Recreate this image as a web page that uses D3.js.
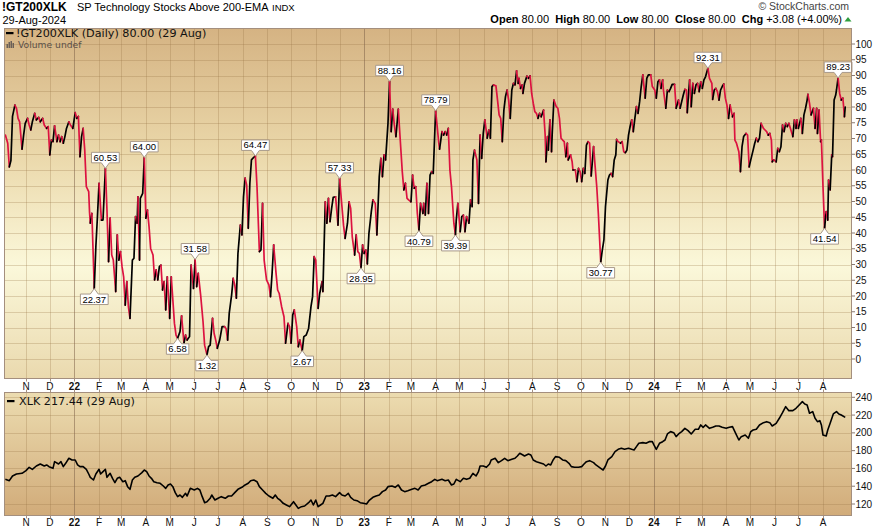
<!DOCTYPE html>
<html><head><meta charset="utf-8">
<script src="https://cdn.jsdelivr.net/npm/d3@7"></script>
<style>
html,body{margin:0;padding:0;background:#fff;}
svg{display:block;}
text{font-family:"Liberation Sans",Arial,sans-serif;}
.mono{font-family:"DejaVu Sans",Verdana,sans-serif;}
</style></head><body>
<svg id="c" width="883" height="529"></svg>
<script>
// ---------------- DATA ----------------
const gtDates = ["2021-10-06","2021-10-09","2021-10-11","2021-10-13","2021-10-15","2021-10-18","2021-10-20","2021-10-22","2021-10-24","2021-10-27","2021-10-29","2021-10-31",
"2021-11-03","2021-11-05","2021-11-07","2021-11-09","2021-11-12","2021-11-14","2021-11-17","2021-11-19","2021-11-22","2021-11-24","2021-11-27","2021-11-29",
"2021-12-01","2021-12-03","2021-12-05","2021-12-07","2021-12-10","2021-12-12","2021-12-14","2021-12-16","2021-12-18","2021-12-20","2021-12-22","2021-12-25","2021-12-27","2021-12-30",
"2022-01-02","2022-01-04","2022-01-06","2022-01-08","2022-01-10","2022-01-12","2022-01-14","2022-01-16","2022-01-19","2022-01-20","2022-01-21","2022-01-23","2022-01-26","2022-01-28","2022-01-30",
"2022-02-01","2022-02-04","2022-02-06","2022-02-09","2022-02-11","2022-02-13","2022-02-15","2022-02-17","2022-02-19","2022-02-22","2022-02-24","2022-02-26","2022-02-28",
"2022-03-02","2022-03-04","2022-03-06","2022-03-08","2022-03-10","2022-03-12","2022-03-15","2022-03-17","2022-03-19","2022-03-21","2022-03-22","2022-03-24","2022-03-25","2022-03-28","2022-03-30",
"2022-04-01","2022-04-03","2022-04-05","2022-04-07","2022-04-10","2022-04-12","2022-04-14","2022-04-16","2022-04-18","2022-04-20","2022-04-22","2022-04-24","2022-04-26","2022-04-28",
"2022-05-01","2022-05-03","2022-05-05","2022-05-07","2022-05-09","2022-05-11","2022-05-14","2022-05-16","2022-05-19","2022-05-21","2022-05-23","2022-05-26","2022-05-28","2022-05-31",
"2022-06-02","2022-06-04","2022-06-06","2022-06-09","2022-06-12","2022-06-14","2022-06-17","2022-06-19","2022-06-21","2022-06-24","2022-06-26","2022-06-28","2022-06-30",
"2022-07-03","2022-07-06","2022-07-09","2022-07-11","2022-07-13","2022-07-15","2022-07-18","2022-07-20","2022-07-22","2022-07-24","2022-07-26","2022-07-29","2022-07-31",
"2022-08-02","2022-08-04","2022-08-06","2022-08-08","2022-08-10","2022-08-12","2022-08-14","2022-08-17","2022-08-19","2022-08-22","2022-08-24","2022-08-26","2022-08-28","2022-08-31",
"2022-09-03","2022-09-05","2022-09-07","2022-09-09","2022-09-12","2022-09-14","2022-09-16","2022-09-19","2022-09-22","2022-09-24","2022-09-27","2022-09-29",
"2022-10-01","2022-10-03","2022-10-05","2022-10-08","2022-10-10","2022-10-12","2022-10-15","2022-10-17","2022-10-20","2022-10-23","2022-10-26","2022-10-28","2022-10-30",
"2022-11-01","2022-11-04","2022-11-06","2022-11-09","2022-11-10","2022-11-13","2022-11-15","2022-11-17","2022-11-19","2022-11-21","2022-11-23","2022-11-26","2022-11-29",
"2022-12-01","2022-12-04","2022-12-06","2022-12-08","2022-12-11","2022-12-13","2022-12-15","2022-12-17","2022-12-20","2022-12-22","2022-12-24","2022-12-26","2022-12-28","2022-12-30",
"2023-01-01","2023-01-03","2023-01-05","2023-01-07","2023-01-10","2023-01-12","2023-01-15","2023-01-17","2023-01-20","2023-01-22","2023-01-24","2023-01-26","2023-01-28","2023-01-31",
"2023-02-02","2023-02-04","2023-02-06","2023-02-08","2023-02-10","2023-02-13","2023-02-16","2023-02-18","2023-02-20","2023-02-22","2023-02-24","2023-02-26",
"2023-03-01","2023-03-03","2023-03-05","2023-03-07","2023-03-09","2023-03-11","2023-03-13","2023-03-16","2023-03-17","2023-03-19","2023-03-21","2023-03-23","2023-03-25","2023-03-27","2023-03-29",
"2023-04-01","2023-04-03","2023-04-05","2023-04-06","2023-04-09","2023-04-11","2023-04-13","2023-04-15","2023-04-17","2023-04-19","2023-04-21","2023-04-24","2023-04-26","2023-04-27","2023-04-29",
"2023-05-02","2023-05-04","2023-05-06","2023-05-08","2023-05-10","2023-05-13","2023-05-15","2023-05-17","2023-05-18","2023-05-20","2023-05-23","2023-05-25","2023-05-27","2023-05-29","2023-05-31",
"2023-06-02","2023-06-05","2023-06-07","2023-06-09","2023-06-11","2023-06-13","2023-06-16","2023-06-18","2023-06-20","2023-06-22","2023-06-24","2023-06-26","2023-06-28","2023-06-30",
"2023-07-02","2023-07-04","2023-07-06","2023-07-08","2023-07-10","2023-07-12","2023-07-14","2023-07-15","2023-07-17","2023-07-19","2023-07-20","2023-07-22","2023-07-25","2023-07-27","2023-07-29","2023-07-31",
"2023-08-02","2023-08-04","2023-08-06","2023-08-08","2023-08-10","2023-08-12","2023-08-15","2023-08-17","2023-08-18","2023-08-20","2023-08-21","2023-08-23","2023-08-25","2023-08-26","2023-08-28","2023-08-31",
"2023-09-02","2023-09-04","2023-09-06","2023-09-08","2023-09-10","2023-09-12","2023-09-14","2023-09-15","2023-09-18","2023-09-20","2023-09-21","2023-09-24","2023-09-26","2023-09-28","2023-09-30",
"2023-10-02","2023-10-04","2023-10-06","2023-10-08","2023-10-10","2023-10-12","2023-10-14","2023-10-17","2023-10-19","2023-10-21","2023-10-23","2023-10-26","2023-10-28","2023-10-30",
"2023-11-01","2023-11-04","2023-11-06","2023-11-08","2023-11-10","2023-11-12","2023-11-14","2023-11-15","2023-11-17","2023-11-20","2023-11-22","2023-11-24","2023-11-26","2023-11-28","2023-11-30",
"2023-12-02","2023-12-04","2023-12-06","2023-12-08","2023-12-10","2023-12-12","2023-12-14","2023-12-16","2023-12-18","2023-12-21","2023-12-23","2023-12-25","2023-12-28","2023-12-30",
"2024-01-02","2024-01-04","2024-01-06","2024-01-08","2024-01-10","2024-01-12","2024-01-13","2024-01-16","2024-01-18","2024-01-20","2024-01-22","2024-01-24","2024-01-27","2024-01-29",
"2024-02-01","2024-02-03","2024-02-05","2024-02-07","2024-02-09","2024-02-11","2024-02-12","2024-02-14","2024-02-15","2024-02-17","2024-02-19","2024-02-21","2024-02-23","2024-02-25","2024-02-27","2024-02-29",
"2024-03-02","2024-03-04","2024-03-06","2024-03-09","2024-03-11","2024-03-14","2024-03-15","2024-03-17","2024-03-19","2024-03-21","2024-03-23","2024-03-25","2024-03-27","2024-03-29","2024-03-31",
"2024-04-02","2024-04-04","2024-04-06","2024-04-09","2024-04-11","2024-04-12","2024-04-14","2024-04-17","2024-04-19","2024-04-21","2024-04-23","2024-04-26","2024-04-28","2024-04-30",
"2024-05-02","2024-05-05","2024-05-07","2024-05-09","2024-05-11","2024-05-13","2024-05-15","2024-05-18","2024-05-20","2024-05-22","2024-05-24","2024-05-26","2024-05-28","2024-05-29","2024-05-31",
"2024-06-03","2024-06-05","2024-06-07","2024-06-09","2024-06-11","2024-06-13","2024-06-15","2024-06-17","2024-06-19","2024-06-21","2024-06-24","2024-06-26","2024-06-28","2024-06-29",
"2024-07-01","2024-07-04","2024-07-06","2024-07-08","2024-07-10","2024-07-12","2024-07-13","2024-07-15","2024-07-17","2024-07-20","2024-07-22","2024-07-24","2024-07-25","2024-07-27","2024-07-29","2024-07-30",
"2024-08-01","2024-08-03","2024-08-05","2024-08-07","2024-08-08","2024-08-10","2024-08-12","2024-08-13","2024-08-15","2024-08-17","2024-08-18","2024-08-20","2024-08-22","2024-08-24","2024-08-26","2024-08-27","2024-08-28","2024-08-29"];
const gtValues = [71.1,68.5,61,63,77,80.6,79.6,76.4,75.3,66.6,71.1,74.8,
76.4,74.3,72.7,75.3,78,75.9,76.7,75.3,76.4,74.3,73.2,73.8,
64.8,69.5,69,74,69,71.1,69,70.6,68.5,70.6,73.2,75.3,74.3,73.2,
78.2,76.4,77,64.2,70.6,73.2,66.3,54.7,53.1,46.8,43.1,46.2,22.37,35.7,45.2,
55.8,44.1,44.1,60.53,47.3,30.9,44.7,33,31.4,21.4,39.4,31.4,34.1,
29.3,26.1,17.1,24.6,16.6,12.9,31.4,32,45.2,43.1,51.5,31.4,51,52.6,64.00,
44.7,47.3,42,35.1,33,25.1,28.3,25.1,29.3,29.8,21.9,24.6,15.6,26.1,
12.9,26.1,18.7,11.3,7.6,6.58,8.7,13.7,5,7.6,6,7.1,29.8,22.4,
31.58,23,27.2,20.3,11.9,4.4,1.32,3.9,4.4,12.9,8.1,6,3.4,
6,10.3,10.3,9.7,6,14.5,20.3,25.6,23.5,19.3,33.5,42.5,39.4,
51.5,57.4,55.2,41.5,55.8,63.2,63.8,64.47,54.7,34.1,34.6,49.4,31.4,25.1,
23.5,19.8,27.2,36.2,27.2,21.9,20.8,16.6,13.4,5,11.3,10.3,
5,14,15.6,10.3,3.9,6,2.67,7.1,7.6,9.7,16.6,19.8,32.5,
31.4,16.1,20.8,24.6,21.4,49.9,43.1,51,43.6,47.8,51.3,51.5,42.5,
57.33,48.4,42.5,38.3,43.1,49.9,47.8,38.8,33,39.4,34.1,33.5,28.95,36.2,
33.5,34.6,30.2,39.9,46.8,50.5,49.4,39.4,57.9,63.7,57.9,64.8,63.2,74.8,
88.16,72.2,79.3,74.3,70.6,79.3,67.4,59.5,53.7,55.8,51,50.5,
49.9,58.4,54.2,54.7,46.2,40.79,49.4,46.2,49.4,45.7,55.8,46.2,58.4,59.5,58.9,
78.79,73.8,68.5,66.6,72.2,71.1,72.2,71.1,73.2,60,54.7,43.1,39.39,44.1,49.4,
40.4,45.2,45.7,40.4,45.2,43.1,50.5,48.4,63.2,66.3,63.2,49.4,71.1,63.7,71.6,
75.9,70.1,72.7,70.1,86.5,87,86.7,82.2,77.5,76.4,69,79,83.3,85.4,
82.2,76.4,85.4,87.5,87,91.5,87.5,89.1,85.9,87,84.3,87.5,89.8,89.1,89.9,84.3,
81.2,78.5,78,76.4,78,76.9,79,71.1,62.6,70.6,66.3,75.9,65.8,72.2,82.2,80.1,
79.6,76.4,70.1,69.5,69,64.2,68.5,63.2,64.8,62.6,60,60,56.3,60.5,59.5,
56.3,60.5,58.9,67.9,69,68.5,58.1,67.4,61,54.7,46.2,30.77,34.6,37.8,
48.4,56.8,58.4,58.9,57.9,63.2,64.8,69.7,69,68.5,69,65.8,65.5,66.3,71.1,
73.8,75.9,72.2,76.4,80.1,78,81.7,86.5,90.2,82.8,89.1,90.2,90.2,86.5,
85.4,82.8,88,88.6,85.9,88.6,85.4,79.6,85.4,84.9,85.9,87.2,87.2,79.6,
82.2,79.6,81.7,83.8,85.6,85.4,78.2,85.4,88.6,80.1,87.5,84.3,87,87.5,84.9,88,
85.9,88.6,89.6,92.31,89.1,87.5,82.4,85.4,85.9,84.9,82.2,85.4,86.5,87.3,82.8,
80.6,76.4,80.6,76.9,78,69.5,68.5,65.8,59.5,67.4,70.6,71.6,71.1,61,
63.2,66.3,68.5,70.1,69,70.1,74.8,73.2,72.7,72.2,71.1,71.6,69.5,62.6,63.2,
62.6,66.9,65.8,67.4,74.3,72.2,74.8,73.8,74.8,73.2,70.6,75.9,73.2,75.9,
73.2,76.4,71.6,77.5,79.6,82.2,84,81.2,77.5,79.6,73.2,79.6,71.6,79,69,69.5,
54.7,41.54,46.8,44.1,56.8,53.7,64.8,64.2,82.2,83.8,85.4,89.23,84.3,82.2,82.8,80.1,76.92,80.00];

const xlkDates = ["2021-10-06","2021-10-11","2021-10-15","2021-10-20","2021-10-27","2021-11-01","2021-11-05","2021-11-09","2021-11-14","2021-11-19","2021-11-24","2021-11-27","2021-11-30",
"2021-12-05","2021-12-07","2021-12-12","2021-12-15","2021-12-18","2021-12-21","2021-12-25","2021-12-29",
"2022-01-02","2022-01-05","2022-01-08","2022-01-12","2022-01-16","2022-01-19","2022-01-21","2022-01-25","2022-01-28",
"2022-02-01","2022-02-03","2022-02-06","2022-02-09","2022-02-11","2022-02-15","2022-02-18","2022-02-21","2022-02-24","2022-02-27",
"2022-03-03","2022-03-06","2022-03-09","2022-03-12","2022-03-15","2022-03-18","2022-03-22","2022-03-27","2022-03-30",
"2022-04-02","2022-04-05","2022-04-08","2022-04-11","2022-04-15","2022-04-19","2022-04-23","2022-04-26","2022-04-29",
"2022-05-02","2022-05-05","2022-05-08","2022-05-11","2022-05-14","2022-05-17","2022-05-21","2022-05-23","2022-05-27",
"2022-06-01","2022-06-05","2022-06-08","2022-06-11","2022-06-14","2022-06-17","2022-06-21","2022-06-23","2022-06-27",
"2022-07-01","2022-07-05","2022-07-10","2022-07-14","2022-07-18","2022-07-22","2022-07-26","2022-07-31",
"2022-08-04","2022-08-08","2022-08-11","2022-08-15","2022-08-19","2022-08-22","2022-08-26","2022-08-30",
"2022-09-03","2022-09-08","2022-09-11","2022-09-14","2022-09-17","2022-09-21","2022-09-25","2022-09-29",
"2022-10-04","2022-10-07","2022-10-10","2022-10-14","2022-10-18","2022-10-23","2022-10-26","2022-10-29",
"2022-11-01","2022-11-04","2022-11-07","2022-11-10","2022-11-14","2022-11-18","2022-11-22","2022-11-26",
"2022-12-01","2022-12-04","2022-12-08","2022-12-12","2022-12-15","2022-12-19","2022-12-23","2022-12-27","2022-12-31",
"2023-01-04","2023-01-07","2023-01-12","2023-01-16","2023-01-20","2023-01-24","2023-01-28","2023-01-31",
"2023-02-05","2023-02-09","2023-02-13","2023-02-17","2023-02-21","2023-02-25",
"2023-03-02","2023-03-06","2023-03-10","2023-03-14","2023-03-19","2023-03-23","2023-03-27","2023-03-31",
"2023-04-03","2023-04-09","2023-04-13","2023-04-17","2023-04-21","2023-04-24","2023-04-27",
"2023-05-02","2023-05-06","2023-05-10","2023-05-14","2023-05-18","2023-05-22","2023-05-25","2023-05-27","2023-05-31",
"2023-06-04","2023-06-08","2023-06-10","2023-06-15","2023-06-19","2023-06-23","2023-06-27",
"2023-07-01","2023-07-06","2023-07-10","2023-07-13","2023-07-16","2023-07-20","2023-07-22","2023-07-27","2023-07-30",
"2023-08-02","2023-08-06","2023-08-10","2023-08-15","2023-08-18","2023-08-21","2023-08-24","2023-08-27","2023-08-30",
"2023-09-04","2023-09-08","2023-09-12","2023-09-16","2023-09-19","2023-09-23","2023-09-28",
"2023-10-02","2023-10-05","2023-10-08","2023-10-12","2023-10-17","2023-10-20","2023-10-23","2023-10-26","2023-10-29",
"2023-11-01","2023-11-04","2023-11-09","2023-11-13","2023-11-17","2023-11-21","2023-11-25","2023-11-30",
"2023-12-04","2023-12-07","2023-12-10","2023-12-13","2023-12-18","2023-12-22","2023-12-26","2023-12-30",
"2024-01-01","2024-01-04","2024-01-08","2024-01-12","2024-01-15","2024-01-18","2024-01-22","2024-01-26","2024-01-29",
"2024-02-02","2024-02-05","2024-02-09","2024-02-13","2024-02-17","2024-02-22","2024-02-26","2024-02-29",
"2024-03-03","2024-03-06","2024-03-11","2024-03-15","2024-03-19","2024-03-23","2024-03-27",
"2024-04-01","2024-04-05","2024-04-09","2024-04-13","2024-04-17","2024-04-20","2024-04-25","2024-04-29",
"2024-05-02","2024-05-05","2024-05-09","2024-05-13","2024-05-18","2024-05-22","2024-05-26","2024-05-29",
"2024-06-03","2024-06-07","2024-06-11","2024-06-15","2024-06-19","2024-06-24","2024-06-28",
"2024-07-02","2024-07-06","2024-07-09","2024-07-12","2024-07-15","2024-07-19","2024-07-22","2024-07-25","2024-07-28","2024-07-30",
"2024-08-01","2024-08-05","2024-08-07","2024-08-10","2024-08-14","2024-08-18","2024-08-21","2024-08-24","2024-08-29"];
const xlkValues = [147.75,146.25,151.5,153.75,154.5,157.5,161.25,159,162.75,165,162.75,163.9,162,
160.1,167.6,165,167.6,162,165.75,171.4,169.5,
169.5,163.9,162,162,159,153.75,150,147,153.75,
159,153.75,156.4,159,150,154.5,148.9,144,148.9,150,
145.1,146.25,139.5,136.5,147,150,151.5,155.25,158.25,
156.4,151.5,148.9,145.1,144,143.25,140.25,137.6,141.4,
142.5,139.5,132.75,128.25,130.1,127.5,132,129,137.6,
135.75,137.6,135.75,128.25,121.5,122.6,126.4,130.1,124.5,
126.4,128.25,126.4,129,129,132.75,136.5,138.75,
141.4,143.25,146.25,147,145.1,139.5,135.75,132,
129,126.4,130.1,126.4,124.5,120.75,118.9,117,
122.6,118.9,115.1,117,117.75,121.5,124.5,118.9,
124.5,117,118.9,120.75,129,129,130.1,128.25,
132.75,130.1,129,132,127.5,124.5,123.75,121.5,120.75,
120,123.75,127.5,129,130.1,133.9,135.75,139.5,
140.25,138.75,141.4,135.75,133.9,135,
136.5,137.6,135.75,140.25,141.4,143.25,145.1,147.75,
146.25,147.75,146.25,147,141.4,142.5,147.75,
145.1,148.9,147.75,148.9,154.5,151.5,156.4,162.75,162.75,
161.25,165,169.5,171.4,166.5,168.75,171.4,
168.75,170.25,171.4,174,177,175.1,174,176.25,175.1,
169.5,167.6,166.5,165,162.75,165,163.9,169.5,173.25,
172.5,169.5,168.75,165.75,162,161.25,161.25,
162,165,167.6,168.75,166.5,163.9,162,160.1,158.25,
162.75,169.5,173.25,178.9,181.5,182.6,181.5,182.6,
181.5,180.75,184.5,188.25,189,188.25,190.1,190.1,
186.4,181.5,188.25,190.1,192,198.75,201.4,200.25,195.75,
199.5,201.4,205.1,202.5,198.75,204,204,208.9,
206.25,208.9,205.1,206.25,207.75,207.75,206.25,
205.1,206.25,207,199.5,192,195.75,197.6,193.9,
201.4,203.25,204,208.9,211.5,212.6,211.5,207.75,
210.75,216.4,222.75,229.5,225,225,227.6,
231.4,235.1,232.5,231.4,222,223.9,216.4,212.6,213.75,208.9,
197.6,196.5,203.25,210.75,221.25,223.9,221.25,220.1,217.44];

// annotated peaks / troughs on !GT200XLK
const annDates  = ["2022-01-26","2022-02-09","2022-03-30","2022-05-11","2022-06-02","2022-06-17","2022-08-17","2022-10-15","2022-12-01","2022-12-28","2023-02-02","2023-03-11","2023-04-01","2023-04-26","2023-10-26","2024-03-09","2024-08-03","2024-08-20"];
const annValues = [22.37,60.53,64.00,6.58,31.58,1.32,64.47,2.67,57.33,28.95,88.16,40.79,78.79,39.39,30.77,92.31,41.54,89.23];
const annKinds  = ["lo","hi","hi","lo","hi","lo","hi","lo","hi","lo","hi","lo","hi","lo","lo","hi","lo","hi"];

const monthLabels = ["N","D","22","F","M","A","M","J","J","A","S","O","N","D","23","F","M","A","M","J","J","A","S","O","N","D","24","F","M","A","M","J","J","A"];
const topTicks = d3.range(0, 101, 5);
const botTicks = [120,140,160,180,200,220,240];

// ---------------- LAYOUT ----------------
const parse = d3.timeParse("%Y-%m-%d");
const svg = d3.select("#c");
const L = 4.5, R = 851.5;
const TP = {t:28.5, b:378.5}, BP = {t:392.5, b:515.5};

const x = d3.scaleTime().domain([parse("2021-11-01"), parse("2024-08-01")]).range([26, 823]);
const yTop = d3.scaleLinear().domain([0,100]).range([359,44]);
const yBot = d3.scaleLinear().domain([120,240]).range([504,397.3]);
const monthStarts = d3.timeMonth.range(parse("2021-11-01"), parse("2024-08-02"));

const defs = svg.append("defs");
const g1 = defs.append("linearGradient").attr("id","gTop").attr("x1",0).attr("y1",0).attr("x2",0).attr("y2",1);
[[0,"#d5b383"],[0.35,"#ead7a9"],[0.68,"#fbf8da"],[1,"#ead9ae"]].forEach(s=>g1.append("stop").attr("offset",s[0]).attr("stop-color",s[1]));
const g2 = defs.append("linearGradient").attr("id","gBot").attr("x1",0).attr("y1",0).attr("x2",0).attr("y2",1);
[[0,"#ecdcb0"],[1,"#d1ab79"]].forEach(s=>g2.append("stop").attr("offset",s[0]).attr("stop-color",s[1]));
defs.append("clipPath").attr("id","cTop").append("rect").attr("x",L).attr("y",TP.t).attr("width",R-L).attr("height",TP.b-TP.t);
defs.append("clipPath").attr("id","cBot").append("rect").attr("x",L).attr("y",BP.t).attr("width",R-L).attr("height",BP.b-BP.t);

function panel(P, fill, yScale, ticks, clip) {
  svg.append("rect").attr("x",L).attr("y",P.t).attr("width",R-L).attr("height",P.b-P.t).attr("fill",fill);
  const g = svg.append("g").attr("clip-path",`url(#${clip})`);
  g.selectAll("line.h").data(ticks).join("line").attr("class","h")
    .attr("x1",L).attr("x2",R).attr("y1",d=>Math.round(yScale(d))+0.5).attr("y2",d=>Math.round(yScale(d))+0.5)
    .attr("stroke","rgba(150,115,70,0.28)").attr("stroke-width",1);
  g.selectAll("line.v").data(monthStarts).join("line").attr("class","v")
    .attr("x1",d=>Math.round(x(d))+0.5).attr("x2",d=>Math.round(x(d))+0.5).attr("y1",P.t).attr("y2",P.b)
    .attr("stroke",(d,i)=>/^\d+$/.test(monthLabels[i])?"rgba(130,100,75,0.55)":"rgba(150,115,70,0.28)").attr("stroke-width",1);
  return g;
}
const gTop = panel(TP, "url(#gTop)", yTop, topTicks, "cTop");
const gBot = panel(BP, "url(#gBot)", yBot, botTicks, "cBot");

// ---- colored !GT200XLK line (black when rising, red when falling)
const gtD = gtDates.map(parse);
const runs = []; let cur = null;
for (let i = 1; i < gtValues.length; i++) {
  const up = gtValues[i] >= gtValues[i-1];
  if (!cur || cur.up !== up) { cur = {up, idx:[i-1]}; runs.push(cur); }
  cur.idx.push(i);
}
const lineTop = d3.line().x(i=>x(gtD[i])).y(i=>yTop(gtValues[i]));
gTop.selectAll("path.run").data(runs).join("path").attr("class","run")
  .attr("d",r=>lineTop(r.idx)).attr("fill","none")
  .attr("stroke",r=>r.up?"#000":"#dc1240").attr("stroke-width",1.7)
  .attr("stroke-linejoin","round").attr("stroke-linecap","round");

// ---- XLK line
const xlkD = xlkDates.map(parse);
const lineBot = d3.line().x((d,i)=>x(xlkD[i])).y(d=>yBot(d));
gBot.append("path").datum(xlkValues).attr("d",lineBot).attr("fill","none")
  .attr("stroke","#000").attr("stroke-width",1.6).attr("stroke-linejoin","round");

// ---- annotations
const ag = svg.append("g");
annDates.forEach((ds,i)=>{
  const px = x(parse(ds)), py = yTop(annValues[i]);
  const lab = annValues[i].toFixed(2);
  const t = ag.append("text").attr("font-size","9.5px").attr("text-anchor","middle").attr("fill","#000").text(lab);
  const w = t.node().getComputedTextLength() + 4, h = 10.5;
  const l = px - w/2, r = px + w/2;
  let d, ty;
  if (annKinds[i]==="hi") {
    const b = py - 5.5, tp = b - h;
    d = `M${l},${tp}H${r}V${b}H${px+4}L${px},${py}L${px-4},${b}H${l}Z`;
    ty = b - 2;
  } else {
    const tp = py + 5.5, b = tp + h;
    d = `M${l},${tp}H${px-4}L${px},${py}L${px+4},${tp}H${r}V${b}H${l}Z`;
    ty = b - 2;
  }
  ag.insert("path","text").attr("d",d).attr("fill","#fff").attr("stroke","#a8998a").attr("stroke-width",1);
  t.attr("x",px).attr("y",ty);
});

// ---- borders
[TP,BP].forEach(P=>svg.append("rect").attr("x",L).attr("y",P.t).attr("width",R-L).attr("height",P.b-P.t)
  .attr("fill","none").attr("stroke","#a48f7e").attr("stroke-width",1));

// ---- y axes
function yAxis(scale, ticks){
  const g = svg.append("g");
  g.selectAll("line").data(ticks).join("line").attr("x1",R).attr("x2",R+3.5)
    .attr("y1",d=>scale(d)).attr("y2",d=>scale(d)).attr("stroke","#8a7a70");
  g.selectAll("text").data(ticks).join("text").attr("x",R+4).attr("y",d=>scale(d)+3.5)
    .attr("font-size","10px").attr("fill","#111").text(d=>d);
}
yAxis(yTop, topTicks);
yAxis(yBot, botTicks);

// ---- x axes (month labels)
function xAxis(yBase, tickY1, tickY2){
  const g = svg.append("g");
  g.selectAll("text").data(monthStarts).join("text").attr("x",d=>x(d)).attr("y",yBase)
    .attr("text-anchor","middle").attr("font-size","10px").attr("fill","#111")
    .attr("font-weight",(d,i)=>/^\d+$/.test(monthLabels[i])?"bold":"normal")
    .text((d,i)=>monthLabels[i]);
  tickY1.forEach((y1,k)=>{
    g.selectAll(null).data(monthStarts).join("line").attr("x1",d=>Math.round(x(d))+0.5).attr("x2",d=>Math.round(x(d))+0.5)
      .attr("y1",y1).attr("y2",tickY2[k]).attr("stroke","#a48f7e");
  });
}
xAxis(390, [TP.b, BP.t], [TP.b+3, BP.t-3]);
xAxis(526, [BP.b], [BP.b+3]);

// ---- headers
svg.append("text").attr("x",2).attr("y",11).attr("font-size","12px").attr("font-weight","bold").text("!GT200XLK");
svg.append("text").attr("x",77).attr("y",11).attr("font-size","11px").text("SP Technology Stocks Above 200-EMA");
svg.append("text").attr("x",272).attr("y",11).attr("font-size","9.5px").text("INDX");
svg.append("text").attr("x",2.5).attr("y",23.5).attr("font-size","11px").text("29-Aug-2024");
svg.append("text").attr("x",849).attr("y",10).attr("text-anchor","end").attr("font-size","10.5px").attr("fill","#444").text("\u00A9 StockCharts.com");
const hdr = svg.append("text").attr("x",842).attr("y",22.5).attr("text-anchor","end").attr("font-size","11px").attr("fill","#000");
[["Open",1],[" 80.00  ",0],["High",1],[" 80.00  ",0],["Low",1],[" 80.00  ",0],["Close",1],[" 80.00  ",0],["Chg",1],[" +3.08 (+4.00%)",0]]
  .forEach(p=>hdr.append("tspan").attr("font-weight",p[1]?"bold":"normal").attr("xml:space","preserve").text(p[0]));
svg.append("path").attr("d","M844.5,21.5L848,17L851.5,21.5Z").attr("fill","#2e9e3e");

// ---- legends
svg.append("rect").attr("x",6).attr("y",32).attr("width",7.5).attr("height",2.2).attr("fill","#000");
svg.append("text").attr("class","mono").attr("x",16).attr("y",37).attr("font-size","11.2px").attr("fill","#111").text("!GT200XLK (Daily) 80.00 (29 Aug)");
[[6.5,44,1.5,4],[8.5,42,1.5,6],[10.5,41,1.5,7],[12.5,43,1.5,5]].forEach(b=>svg.append("rect").attr("x",b[0]).attr("y",b[1]).attr("width",b[2]).attr("height",b[3]).attr("fill","#6b6058"));
svg.append("text").attr("class","mono").attr("x",18).attr("y",48).attr("font-size","9.2px").attr("fill","#5a5048").text("Volume undef");
svg.append("rect").attr("x",7).attr("y",400).attr("width",7.5).attr("height",2.2).attr("fill","#000");
svg.append("text").attr("class","mono").attr("x",19).attr("y",405).attr("font-size","11.2px").attr("fill","#111").text("XLK 217.44 (29 Aug)");
</script>
</body></html>
